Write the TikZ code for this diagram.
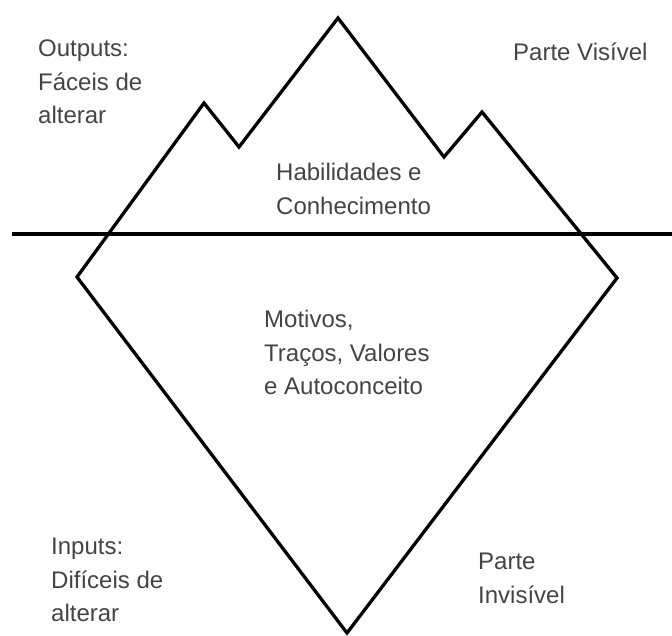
\documentclass[tikz,border=0pt]{standalone}
\usepackage{fontspec}
\setmainfont{Liberation Sans}
\definecolor{txtgray}{HTML}{444444}
\begin{document}
\begin{tikzpicture}[x=1pt,y=-1pt,
  outline/.style={draw=black,line width=3.3pt,line join=miter},
  lbl/.style={anchor=north west,inner sep=0pt,align=left,text=txtgray,
    font=\fontsize{24}{33.5}\selectfont}]
\useasboundingbox (0,0) rectangle (672,636);
\coordinate (lc) at (77,277);
\coordinate (lp) at (204,103);
\coordinate (lv) at (239,147);
\coordinate (top) at (338,18);
\coordinate (rv) at (444,157);
\coordinate (rp) at (482,112);
\coordinate (rc) at (617,278);
\coordinate (bot) at (347,633);
\coordinate (wl) at (12,234);
\coordinate (wr) at (672,234);
\draw[outline] (lc) -- (lp) -- (lv) -- (top) -- (rv) -- (rp) -- (rc) -- (bot) -- cycle;
\draw[outline] (wl) -- (wr);
\node[lbl] (out) at (38,40) {Outputs:\\Fáceis de\\alterar};
\node[lbl] (vis) at (513,43) {Parte Visível};
\node[lbl] (hab) at (276,163) {Habilidades e\\Conhecimento};
\node[lbl] (mot) at (264,310) {Motivos,\\Traços, Valores\\e Autoconceito};
\node[lbl] (inp) at (51,538) {Inputs:\\Difíceis de\\alterar};
\node[lbl] (inv) at (478,553) {Parte\\Invisível};
\end{tikzpicture}
\end{document}
